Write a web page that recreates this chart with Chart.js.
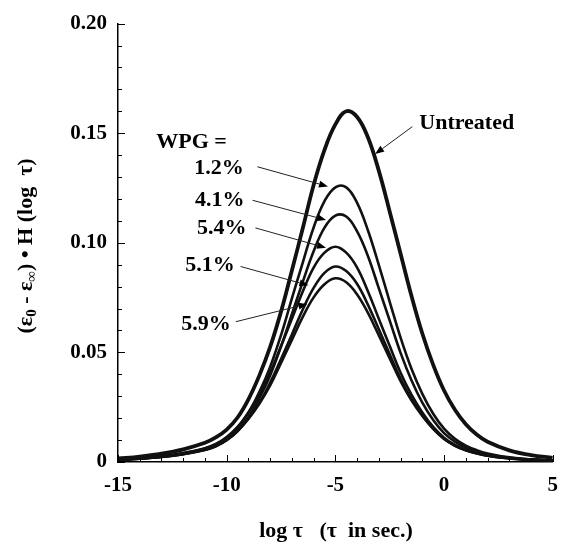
<!DOCTYPE html>
<html>
<head>
<meta charset="utf-8">
<script src="https://cdn.jsdelivr.net/npm/chart.js@4.4.0/dist/chart.umd.min.js"></script>
<style>
  body { margin: 0; background: #fff; }
  #chart { display: block; }
</style>
</head>
<body>
<canvas id="chart" width="569" height="544"></canvas>
<script>
// relaxation time distribution, log(tau) in seconds (finer steps where the curves bend)
const logTau = [-15, -14, -13, -12, -11, -10.5, -10, -9.5, -9, -8.5, -8, -7.5, -7, -6.5, -6, -5.5, -5,
  -4.5, -4, -3.5, -3, -2.5, -2, -1.5, -1, -0.5, 0, 0.5, 1, 1.5, 2, 3, 4, 5];

const untreated = [0.0016, 0.0025, 0.0038, 0.0058, 0.0088, 0.0112, 0.0148, 0.0203, 0.0286, 0.0394, 0.0525,
  0.0686, 0.0874, 0.1066, 0.1264, 0.1424, 0.154, 0.160, 0.1574, 0.148, 0.1328, 0.1142, 0.095, 0.0758,
  0.0586, 0.0443, 0.0326, 0.0238, 0.0172, 0.0125, 0.0092, 0.0053, 0.0031, 0.0019];
const wpg12 = [0.0011, 0.0017, 0.0026, 0.0040, 0.0062, 0.0080, 0.0111, 0.0157, 0.0225, 0.0319, 0.0434,
  0.0579, 0.0746, 0.091, 0.107, 0.119, 0.1253, 0.1253, 0.1182, 0.1056, 0.0898, 0.0731, 0.0567, 0.0425,
  0.0311, 0.022, 0.0152, 0.0106, 0.0075, 0.0054, 0.0039, 0.0021, 0.0012, 0.0008];
const wpg41 = [0.0010, 0.0015, 0.0024, 0.0037, 0.0057, 0.0073, 0.0101, 0.0143, 0.0205, 0.029, 0.0395,
  0.0527, 0.0674, 0.0822, 0.0961, 0.1069, 0.1124, 0.112, 0.1052, 0.0939, 0.0792, 0.0645, 0.0498, 0.0373,
  0.0271, 0.0192, 0.0132, 0.0093, 0.0066, 0.0048, 0.0035, 0.0019, 0.0011, 0.0007];
const wpg54 = [0.0011, 0.0017, 0.0026, 0.0041, 0.0063, 0.0082, 0.0114, 0.016, 0.0226, 0.0307, 0.0407,
  0.0529, 0.0653, 0.0778, 0.0887, 0.0955, 0.0982, 0.0955, 0.0887, 0.0778, 0.0653, 0.0529, 0.0407, 0.0307,
  0.0226, 0.016, 0.0111, 0.0078, 0.0056, 0.0041, 0.0030, 0.0017, 0.0010, 0.0007];
const wpg51 = [0.0010, 0.0015, 0.0023, 0.0036, 0.0055, 0.0072, 0.0099, 0.014, 0.0199, 0.0269, 0.0362,
  0.047, 0.0582, 0.0696, 0.0794, 0.0863, 0.0892, 0.0871, 0.0812, 0.0717, 0.0605, 0.0491, 0.0379, 0.0287,
  0.0214, 0.0152, 0.0105, 0.0074, 0.0053, 0.0039, 0.0029, 0.0016, 0.0010, 0.0007];
const wpg59 = [0.0010, 0.0015, 0.0023, 0.0036, 0.0056, 0.0073, 0.0101, 0.0142, 0.0197, 0.0266, 0.035,
  0.0452, 0.0557, 0.0662, 0.0751, 0.0811, 0.0838, 0.082, 0.0764, 0.068, 0.0577, 0.0472, 0.0369, 0.0281,
  0.021, 0.0151, 0.0106, 0.0075, 0.0054, 0.0040, 0.0029, 0.0017, 0.0010, 0.0007];

const seriesNames = ['Untreated', '1.2%', '4.1%', '5.4%', '5.1%', '5.9%'];
const seriesValues = [untreated, wpg12, wpg41, wpg54, wpg51, wpg59];

const serif = "'Liberation Serif', 'Times New Roman', serif";

// curve labels and the arrows that point from them to the curves (data units)
const notes = [
  { text: 'WPG =', x: -13.24, y: 0.146, align: 'left' },
  { text: '1.2%', x: -9.22, y: 0.1338, align: 'right', from: [-8.59, 0.1347], to: [-5.34, 0.1257] },
  { text: '4.1%', x: -9.18, y: 0.1194, align: 'right', from: [-8.81, 0.1194], to: [-5.43, 0.1104] },
  { text: '5.4%', x: -9.09, y: 0.1068, align: 'right', from: [-8.68, 0.1068], to: [-5.43, 0.0977] },
  { text: '5.1%', x: -9.63, y: 0.0896, align: 'right', from: [-9.36, 0.0892], to: [-6.24, 0.0806] },
  { text: '5.9%', x: -9.81, y: 0.0626, align: 'right', from: [-9.58, 0.0640], to: [-6.29, 0.0721] },
  { text: 'Untreated', x: -1.14, y: 0.1545, align: 'left', from: [-1.46, 0.1530], to: [-3.17, 0.1405] }
];

function arrow(ctx, x1, y1, x2, y2) {
  const a = Math.atan2(y2 - y1, x2 - x1);
  const len = 9, half = 3.5;
  ctx.beginPath();
  ctx.moveTo(x1, y1);
  ctx.lineTo(x2 - Math.cos(a) * len, y2 - Math.sin(a) * len);
  ctx.stroke();
  ctx.beginPath();
  ctx.moveTo(x2, y2);
  ctx.lineTo(x2 - Math.cos(a) * len - Math.sin(a) * half, y2 - Math.sin(a) * len + Math.cos(a) * half);
  ctx.lineTo(x2 - Math.cos(a) * len + Math.sin(a) * half, y2 - Math.sin(a) * len - Math.cos(a) * half);
  ctx.closePath();
  ctx.fill();
}

const extras = {
  id: 'extras',
  afterDraw(chart) {
    const ctx = chart.ctx;
    const xs = chart.scales.x, ys = chart.scales.y;
    const area = chart.chartArea;
    ctx.save();
    ctx.strokeStyle = '#000';
    ctx.fillStyle = '#000';
    ctx.lineWidth = 1;

    // inward tick marks, minor every 0.01 / 1 unit
    for (let i = 0; i <= 20; i++) {
      const py = Math.round(ys.getPixelForValue(i / 100)) + 0.5;
      const len = i % 5 === 0 ? 7 : 4;
      ctx.beginPath();
      ctx.moveTo(area.left, py);
      ctx.lineTo(area.left + len, py);
      ctx.stroke();
    }
    for (let v = -15; v <= 5; v++) {
      const px = Math.round(xs.getPixelForValue(v)) + 0.5;
      const len = v % 5 === 0 ? 7 : 4;
      ctx.beginPath();
      ctx.moveTo(px, area.bottom);
      ctx.lineTo(px, area.bottom - len);
      ctx.stroke();
    }

    // labels and arrows
    ctx.font = 'bold 22px ' + serif;
    ctx.textBaseline = 'middle';
    notes.forEach(n => {
      ctx.textAlign = n.align;
      ctx.fillText(n.text, xs.getPixelForValue(n.x), ys.getPixelForValue(n.y));
      if (n.from) {
        ctx.strokeStyle = '#222';
        arrow(ctx, xs.getPixelForValue(n.from[0]), ys.getPixelForValue(n.from[1]),
          xs.getPixelForValue(n.to[0]), ys.getPixelForValue(n.to[1]));
      }
    });

    // x axis title
    ctx.textAlign = 'center';
    ctx.textBaseline = 'alphabetic';
    ctx.font = 'bold 22px ' + serif;
    ctx.fillText('log τ   (τ  in sec.)', 336, 537);

    // y axis title with subscripts
    const parts = [
      { t: '(ε', sub: false }, { t: '0', sub: true }, { t: ' - ε', sub: false },
      { t: '∞', sub: true }, { t: ') • H (log  τ)', sub: false }
    ];
    const big = 'bold 22px ' + serif, small = 'bold 15px ' + serif;
    let total = 0;
    parts.forEach(p => { ctx.font = p.sub ? small : big; p.w = ctx.measureText(p.t).width; total += p.w; });
    ctx.translate(26, 246);
    ctx.rotate(-Math.PI / 2);
    ctx.textAlign = 'left';
    ctx.textBaseline = 'middle';
    let cx = -total / 2;
    parts.forEach(p => {
      ctx.font = p.sub ? small : big;
      ctx.fillText(p.t, cx, p.sub ? 6 : 0);
      cx += p.w;
    });
    ctx.restore();
  }
};

new Chart(document.getElementById('chart'), {
  type: 'line',
  data: {
    datasets: seriesValues.map((vals, i) => ({
      label: seriesNames[i],
      data: vals.map((v, j) => ({ x: logTau[j], y: v })),
      borderColor: '#111',
      borderWidth: i === 0 ? 3.8 : 2.6,
      pointRadius: 0,
      tension: 0.4,
      fill: false
    }))
  },
  options: {
    responsive: false,
    animation: false,
    layout: { padding: { left: 0, right: 8, top: 18, bottom: 0 } },
    plugins: { legend: { display: false }, tooltip: { enabled: false } },
    scales: {
      x: {
        type: 'linear',
        min: -15,
        max: 5,
        grid: { display: false, drawTicks: false },
        border: { display: true, color: '#000', width: 1.5 },
        ticks: {
          stepSize: 5,
          padding: 11,
          color: '#000',
          font: { family: serif, size: 21, weight: 'bold' }
        },
        afterFit(scale) { scale.height = 82; }
      },
      y: {
        min: 0,
        max: 0.2,
        grid: { display: false, drawTicks: false },
        border: { display: true, color: '#000', width: 1.5 },
        ticks: {
          stepSize: 0.05,
          padding: 11,
          color: '#000',
          font: { family: serif, size: 21, weight: 'bold' },
          callback: v => (v === 0 ? '0' : v.toFixed(2))
        },
        afterFit(scale) { scale.width = 118; }
      }
    }
  },
  plugins: [extras]
});
</script>
</body>
</html>
